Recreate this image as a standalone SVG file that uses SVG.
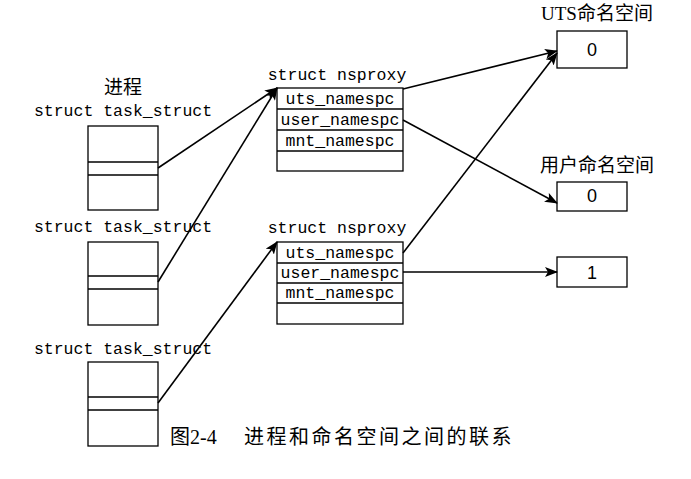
<svg xmlns="http://www.w3.org/2000/svg" width="691" height="479" viewBox="0 0 691 479">
<style>
.box{fill:#fff;stroke:#000;stroke-width:1.3}
.ln{stroke:#000;stroke-width:1.3;fill:none}
.mono{font-family:"Liberation Mono","DejaVu Sans Mono",monospace;font-size:16.5px;fill:#000}
.cjk{font-family:"Liberation Serif","Noto Sans CJK SC",serif;font-size:19px;fill:#000}
.cap{font-family:"Liberation Serif","Noto Sans CJK SC",serif;font-size:20px;fill:#000}
.num{font-family:"Liberation Sans",Arial,sans-serif;font-size:18px;fill:#000}
.conn{stroke:#000;stroke-width:1.6;fill:none;marker-end:url(#ah)}
</style>
<defs>
<marker id="ah" markerWidth="13" markerHeight="10" refX="12" refY="5" orient="auto" markerUnits="userSpaceOnUse">
<path d="M0,0 L13,5 L0,10 L3,5 Z" fill="#000"/>
</marker>
</defs>
<rect width="691" height="479" fill="#fff"/>
<text class="cjk" x="123" y="94" text-anchor="middle">进程</text>
<g id="task1">
<text class="mono" x="123" y="116" text-anchor="middle">struct task_struct</text>
<rect class="box" x="88" y="126" width="70" height="84"/>
<line class="ln" x1="88" y1="162" x2="158" y2="162"/>
<line class="ln" x1="88" y1="175" x2="158" y2="175"/>
</g>
<g id="task2">
<text class="mono" x="123" y="232" text-anchor="middle">struct task_struct</text>
<rect class="box" x="88" y="242" width="70" height="83"/>
<line class="ln" x1="88" y1="276" x2="158" y2="276"/>
<line class="ln" x1="88" y1="289" x2="158" y2="289"/>
</g>
<g id="task3">
<text class="mono" x="123" y="354" text-anchor="middle">struct task_struct</text>
<rect class="box" x="88" y="362" width="70" height="84"/>
<line class="ln" x1="88" y1="397" x2="158" y2="397"/>
<line class="ln" x1="88" y1="410" x2="158" y2="410"/>
</g>
<g id="nsproxy1">
<text class="mono" x="337" y="80" text-anchor="middle">struct nsproxy</text>
<rect class="box" x="277" y="88" width="126" height="83"/>
<line class="ln" x1="277" y1="109" x2="403" y2="109"/>
<line class="ln" x1="277" y1="130" x2="403" y2="130"/>
<line class="ln" x1="277" y1="151" x2="403" y2="151"/>
<text class="mono" x="340" y="104" text-anchor="middle">uts_namespc</text>
<text class="mono" x="340" y="125" text-anchor="middle">user_namespc</text>
<text class="mono" x="340" y="146" text-anchor="middle">mnt_namespc</text>
</g>
<g id="nsproxy2">
<text class="mono" x="337" y="233" text-anchor="middle">struct nsproxy</text>
<rect class="box" x="277" y="242" width="126" height="82"/>
<line class="ln" x1="277" y1="263" x2="403" y2="263"/>
<line class="ln" x1="277" y1="283" x2="403" y2="283"/>
<line class="ln" x1="277" y1="303" x2="403" y2="303"/>
<text class="mono" x="340" y="258" text-anchor="middle">uts_namespc</text>
<text class="mono" x="340" y="278" text-anchor="middle">user_namespc</text>
<text class="mono" x="340" y="298" text-anchor="middle">mnt_namespc</text>
</g>
<g id="uts0">
<text class="cjk" x="597" y="20" text-anchor="middle">UTS命名空间</text>
<rect class="box" x="557" y="31" width="70" height="37"/>
<text class="num" x="592" y="56" text-anchor="middle">0</text>
</g>
<g id="user0">
<text class="cjk" x="597" y="172" text-anchor="middle">用户命名空间</text>
<rect class="box" x="557" y="182" width="70" height="29"/>
<text class="num" x="592" y="202" text-anchor="middle">0</text>
</g>
<g id="user1">
<rect class="box" x="557" y="257" width="70" height="30"/>
<text class="num" x="592" y="279" text-anchor="middle">1</text>
</g>
<g id="connectors">
<line class="conn" x1="158" y1="168" x2="277" y2="88"/>
<line class="conn" x1="158" y1="282" x2="277" y2="88"/>
<line class="conn" x1="158" y1="403" x2="277" y2="242"/>
<line class="conn" x1="403" y1="89" x2="557" y2="51"/>
<line class="conn" x1="403" y1="120" x2="557" y2="203"/>
<line class="conn" x1="403" y1="253" x2="557" y2="53"/>
<line class="conn" x1="403" y1="272" x2="557" y2="272"/>
</g>
<text class="cap" x="170" y="444">图2-4</text>
<text class="cap" x="244" y="444" letter-spacing="2.5">进程和命名空间之间的联系</text>
</svg>
